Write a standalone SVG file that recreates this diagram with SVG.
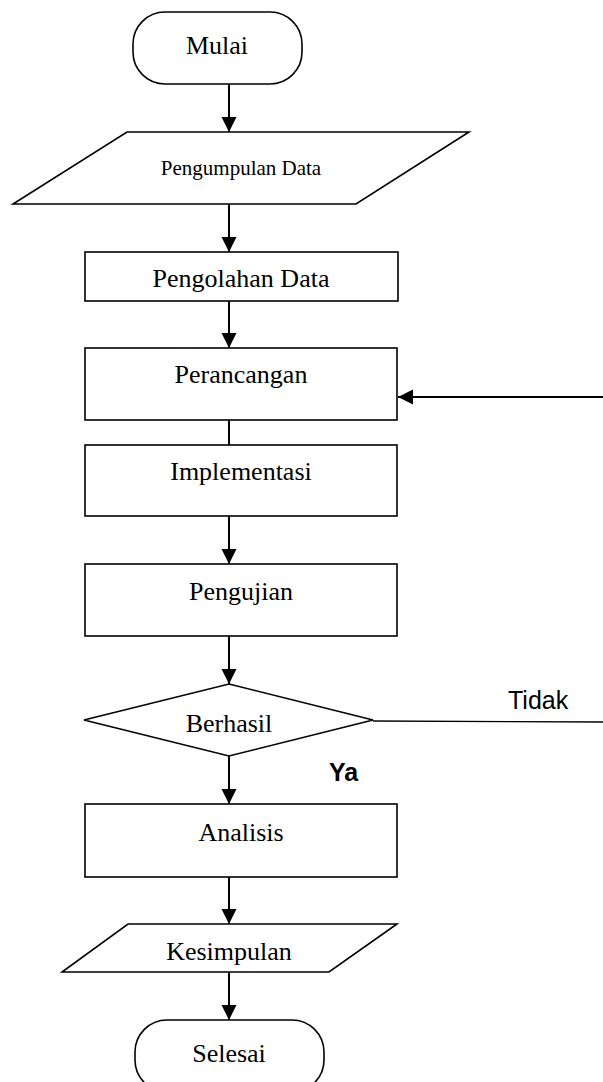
<svg xmlns="http://www.w3.org/2000/svg" width="603" height="1082" viewBox="0 0 603 1082">
<style>
.s{fill:#fff;stroke:#000;stroke-width:1.6}
.t{font-family:"Liberation Serif","Times New Roman",serif;font-size:26px;fill:#000;text-anchor:middle}
.a{font-family:"Liberation Sans",Arial,sans-serif;font-size:25px;fill:#000}
.c{stroke:#000;stroke-width:2;fill:none}
</style>
<defs>
<marker id="ah" markerUnits="userSpaceOnUse" markerWidth="16" markerHeight="16" viewBox="0 0 16 16" refX="15" refY="8" orient="auto">
<path d="M0,0.5 L15,8 L0,15.5 Z" fill="#000"/>
</marker>
</defs>
<rect width="603" height="1082" fill="#fff"/>
<g id="connectors">
<line class="c" x1="229" y1="84" x2="229" y2="132" marker-end="url(#ah)"/>
<line class="c" x1="229" y1="204" x2="229" y2="252" marker-end="url(#ah)"/>
<line class="c" x1="229" y1="301" x2="229" y2="348" marker-end="url(#ah)"/>
<line class="c" x1="229" y1="420" x2="229" y2="445"/>
<line class="c" x1="229" y1="516" x2="229" y2="564" marker-end="url(#ah)"/>
<line class="c" x1="229" y1="636" x2="229" y2="684" marker-end="url(#ah)"/>
<line class="c" x1="229" y1="756" x2="229" y2="804" marker-end="url(#ah)"/>
<line class="c" x1="229" y1="877" x2="229" y2="924" marker-end="url(#ah)"/>
<line class="c" x1="229" y1="972" x2="229" y2="1020" marker-end="url(#ah)"/>
<line x1="373" y1="721" x2="603" y2="722" stroke="#000" stroke-width="1.4"/>
<line class="c" x1="603" y1="397" x2="398" y2="397" marker-end="url(#ah)"/>
<text class="a" x="508" y="709">Tidak</text>
<text class="a" x="329" y="781" font-weight="bold">Ya</text>
</g>
<g id="mulai">
<rect class="s" x="133" y="12" width="169" height="72" rx="32" ry="32"/>
<text class="t" x="217" y="54">Mulai</text>
</g>
<g id="pengumpulan">
<polygon class="s" points="127,132 469,132 356,204 13,204"/>
<text class="t" x="241" y="175" style="font-size:21px">Pengumpulan Data</text>
</g>
<g id="pengolahan">
<rect class="s" x="85" y="252" width="313" height="49"/>
<text class="t" x="241" y="287">Pengolahan Data</text>
</g>
<g id="perancangan">
<rect class="s" x="85" y="348" width="312" height="72"/>
<text class="t" x="241" y="383">Perancangan</text>
</g>
<g id="implementasi">
<rect class="s" x="85" y="445" width="312" height="71"/>
<text class="t" x="241" y="480">Implementasi</text>
</g>
<g id="pengujian">
<rect class="s" x="85" y="564" width="312" height="72"/>
<text class="t" x="241" y="600">Pengujian</text>
</g>
<g id="berhasil">
<polygon class="s" points="229,684 373,720 229,756 84,720"/>
<text class="t" x="229" y="732">Berhasil</text>
</g>
<g id="analisis">
<rect class="s" x="85" y="804" width="312" height="73"/>
<text class="t" x="241" y="841">Analisis</text>
</g>
<g id="kesimpulan">
<polygon class="s" points="128,924 397,924 329,972 62,972"/>
<text class="t" x="229" y="960">Kesimpulan</text>
</g>
<g id="selesai">
<rect class="s" x="135" y="1020" width="189" height="72" rx="32" ry="32"/>
<text class="t" x="229" y="1062">Selesai</text>
</g>
</svg>
